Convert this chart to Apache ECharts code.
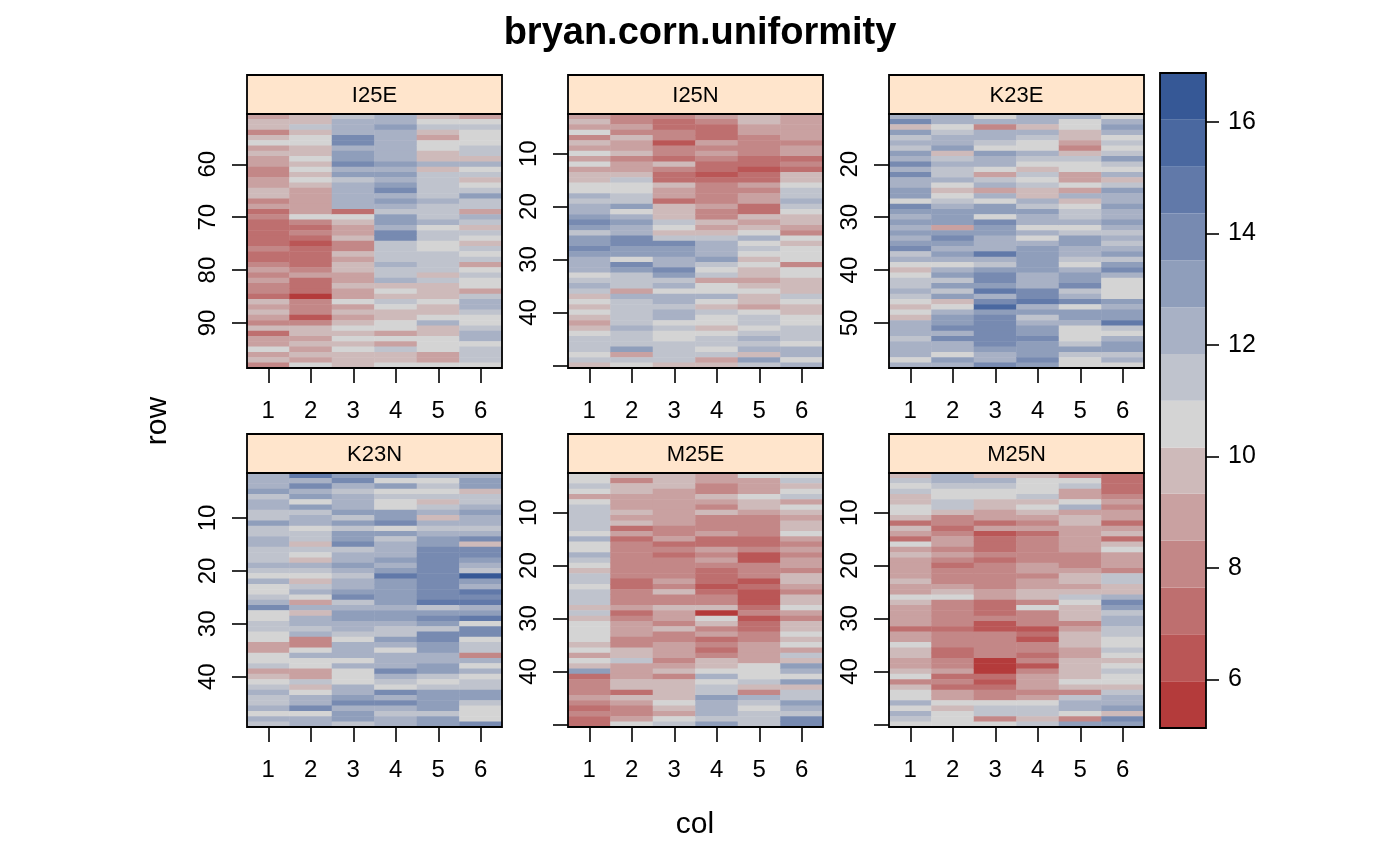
<!DOCTYPE html>
<html><head><meta charset="utf-8">
<script src="https://cdn.jsdelivr.net/npm/echarts@6/dist/echarts.min.js"></script>
<style>html,body{margin:0;padding:0;background:#fff}#c{width:1400px;height:866px}</style>
</head><body><div id="c"></div>
<script>
const chartTitle = 'bryan.corn.uniformity';
const fields = ['I25E','I25N','K23E','K23N','M25E','M25N'];
const cols = ['1','2','3','4','5','6'];
const rowStart = [51, 3, 11, 2, 3, 3];
const rowCount = 48;
const yTickRows = [[60,70,80,90],[10,20,30,40,50],[20,30,40,50],[10,20,30,40],[10,20,30,40,50],[10,20,30,40,50]];
const yLabelRows = [[60,70,80,90],[10,20,30,40],[20,30,40,50],[10,20,30,40],[10,20,30,40],[10,20,30,40]];
const breaks = [5.13,5.97,6.81,7.65,8.49,9.33,10.16,11.00,11.84,12.68,13.52,14.36,15.20,16.04,16.88];
const bandColors = ['#B43B3B','#BA5656','#BE6F6F','#C38787','#C9A1A1','#CEBABA','#D4D4D4','#BFC3CD','#A8B1C5','#8F9EBB','#778AB1','#6179A9','#4A68A0','#365896'];
const keyTicks = [6,8,10,12,14,16];

const I25E = [
[8.9,9.7,9.7,8.0,9.7,10.6,8.9,9.7,8.9,8.9,8.0,8.0,8.9,8.9,9.7,9.7,8.0,8.9,7.2,8.0,7.2,7.2,7.2,7.2,7.2,8.0,7.2,7.2,8.0,8.9,8.0,8.9,8.0,8.0,7.2,9.7,8.9,9.7,8.9,8.0,9.7,7.2,8.9,8.9,10.6,8.9,9.7,8.0],
[9.7,9.7,11.4,9.7,10.6,10.6,9.7,9.7,10.6,9.7,10.6,9.7,10.6,9.7,8.9,8.9,8.9,8.9,8.9,10.6,8.0,7.2,8.0,7.2,6.4,7.2,7.2,7.2,7.2,8.0,8.9,7.2,7.2,7.2,5.5,8.0,8.0,8.0,6.4,8.0,9.7,9.7,8.9,9.7,8.9,9.7,8.9,10.6],
[11.4,12.2,12.2,12.2,13.9,13.9,12.2,13.1,13.1,13.9,12.2,13.1,11.4,12.2,12.2,12.2,12.2,12.2,7.2,10.6,9.7,8.9,8.9,9.7,8.0,8.0,9.7,8.9,9.7,9.7,8.9,8.9,9.7,8.9,8.9,10.6,8.9,9.7,8.9,9.7,10.6,9.7,10.6,9.7,10.6,9.7,9.7,9.7],
[12.2,12.2,13.1,12.2,12.2,12.2,12.2,12.2,12.2,13.1,12.2,13.1,12.2,13.1,13.9,12.2,13.1,12.2,11.4,13.1,13.1,12.2,13.9,13.9,11.4,11.4,11.4,11.4,12.2,11.4,11.4,12.2,9.7,10.6,9.7,11.4,10.6,9.7,9.7,10.6,10.6,8.9,10.6,8.9,11.4,9.7,9.7,10.6],
[9.7,10.6,11.4,9.7,8.9,10.6,10.6,9.7,9.7,12.2,9.7,11.4,11.4,11.4,11.4,11.4,12.2,11.4,11.4,11.4,12.2,10.6,11.4,11.4,10.6,10.6,11.4,11.4,11.4,11.4,9.7,11.4,9.7,9.7,9.7,10.6,9.7,9.7,10.6,12.2,9.7,9.7,10.6,10.6,10.6,8.9,8.9,10.6],
[8.9,10.6,11.4,10.6,10.6,10.6,11.4,11.4,9.7,12.2,10.6,11.4,9.7,10.6,11.4,13.1,11.4,11.4,8.9,12.2,11.4,9.7,11.4,10.6,9.7,11.4,10.6,11.4,8.9,10.6,11.4,10.6,10.6,8.9,11.4,12.2,12.2,11.4,10.6,10.6,11.4,12.2,12.2,10.6,11.4,11.4,11.4,10.6]
];
const I25N = [
[8.9,9.7,8.9,10.6,8.0,9.7,8.9,10.6,8.9,10.6,8.9,9.7,9.7,10.6,10.6,12.2,11.4,12.2,12.2,13.1,13.9,13.1,11.4,13.1,13.1,13.9,13.1,12.2,12.2,12.2,10.6,11.4,12.2,11.4,9.7,10.6,9.7,10.6,9.7,8.9,9.7,10.6,11.4,11.4,11.4,10.6,11.4,9.7],
[8.0,8.0,8.9,8.0,9.7,8.9,8.9,9.7,8.0,8.9,8.9,9.7,11.4,10.6,10.6,11.4,11.4,13.1,10.6,12.2,13.1,12.2,12.2,13.9,13.9,13.1,13.1,10.6,13.9,13.1,11.4,11.4,11.4,8.9,12.2,11.4,11.4,11.4,11.4,11.4,12.2,11.4,11.4,11.4,13.1,8.9,11.4,10.6],
[8.0,7.2,7.2,8.0,8.0,6.4,8.0,8.0,7.2,9.7,8.0,7.2,7.2,9.7,8.9,8.9,7.2,9.7,9.7,9.7,11.4,10.6,9.7,11.4,13.9,13.1,13.1,12.2,12.2,13.9,13.1,11.4,12.2,10.6,12.2,12.2,11.4,12.2,12.2,10.6,11.4,10.6,10.6,11.4,11.4,11.4,11.4,9.7],
[8.9,8.0,7.2,7.2,7.2,8.9,8.0,8.9,8.0,7.2,7.2,6.4,7.2,8.0,8.0,8.0,8.0,8.9,8.0,8.0,9.7,8.9,9.7,11.4,12.2,12.2,12.2,13.1,11.4,10.6,11.4,8.9,10.6,10.6,12.2,10.6,9.7,11.4,10.6,10.6,9.7,10.6,11.4,11.4,10.6,11.4,8.9,9.7],
[9.7,9.7,8.9,8.9,8.0,8.0,8.0,8.0,7.2,7.2,6.4,7.2,7.2,8.9,8.0,8.9,8.9,7.2,7.2,9.7,8.9,9.7,10.6,12.2,10.6,11.4,10.6,9.7,10.6,9.7,9.7,8.9,9.7,10.6,9.7,9.7,8.9,10.6,11.4,11.4,10.6,11.4,12.2,11.4,12.2,9.7,13.1,11.4],
[8.9,8.9,8.9,8.9,8.9,8.0,8.9,8.9,7.2,8.0,7.2,9.7,9.7,10.6,11.4,11.4,12.2,11.4,10.6,9.7,9.7,8.9,8.0,10.6,9.7,10.6,10.6,10.6,8.0,10.6,10.6,9.7,9.7,9.7,11.4,10.6,9.7,9.7,10.6,10.6,11.4,11.4,11.4,10.6,12.2,12.2,10.6,12.2]
];
const K23E = [
[12.2,13.9,9.7,13.1,11.4,12.2,11.4,13.1,12.2,13.9,12.2,13.9,12.2,12.2,13.1,13.1,10.6,13.9,13.1,12.2,13.1,12.2,13.1,12.2,13.1,13.9,11.4,12.2,10.6,9.7,10.6,11.4,11.4,12.2,11.4,10.6,9.7,10.6,9.7,12.2,12.2,12.2,11.4,12.2,12.2,12.2,10.6,12.2],
[12.2,12.2,10.6,11.4,12.2,12.2,13.1,9.7,11.4,12.2,11.4,11.4,12.2,10.6,9.7,10.6,11.4,12.2,13.1,13.1,13.1,8.9,13.1,13.9,13.1,12.2,13.1,12.2,10.6,12.2,13.1,11.4,13.1,11.4,13.1,9.7,10.6,12.2,13.1,13.1,13.9,12.2,13.9,12.2,12.2,10.6,13.1,12.2],
[10.6,12.2,8.0,12.2,12.2,11.4,10.6,13.1,12.2,12.2,10.6,8.9,11.4,12.2,8.9,12.2,10.6,13.1,13.1,10.6,13.9,13.1,13.1,12.2,12.2,12.2,14.8,12.2,11.4,13.1,13.9,13.9,13.1,14.8,12.2,13.9,15.6,13.1,13.9,13.9,13.9,13.9,13.9,13.9,13.1,12.2,12.2,13.9],
[12.2,12.2,9.7,12.2,11.4,10.6,10.6,12.2,11.4,10.6,9.7,11.4,10.6,11.4,9.7,9.7,12.2,11.4,13.1,12.2,12.2,10.6,12.2,10.6,12.2,13.1,13.1,13.1,13.1,13.1,12.2,12.2,12.2,13.9,13.9,14.8,12.2,13.1,11.4,12.2,13.1,13.1,13.9,13.1,13.1,13.1,13.9,13.1],
[12.2,10.6,10.6,9.7,9.7,8.9,8.0,9.7,11.4,10.6,10.6,8.9,8.9,10.6,8.9,12.2,9.7,10.6,11.4,11.4,12.2,10.6,11.4,13.1,13.1,12.2,12.2,11.4,10.6,12.2,13.1,13.1,13.9,11.4,12.2,13.9,10.6,13.1,13.1,12.2,10.6,10.6,10.6,11.4,13.1,11.4,10.6,10.6],
[10.6,12.2,13.1,12.2,10.6,11.4,10.6,11.4,13.1,11.4,10.6,12.2,9.7,11.4,13.1,12.2,12.2,13.1,12.2,12.2,13.1,12.2,11.4,12.2,11.4,12.2,13.1,11.4,13.1,13.9,12.2,10.6,10.6,10.6,10.6,13.1,12.2,13.1,13.1,14.8,11.4,10.6,12.2,13.1,13.1,11.4,12.2,10.6]
];
const K23N = [
[12.2,12.2,12.2,13.1,11.4,12.2,12.2,11.4,11.4,13.1,11.4,11.4,12.2,12.2,11.4,11.4,11.4,12.2,11.4,10.6,12.2,10.6,10.6,11.4,12.2,13.9,10.6,10.6,11.4,11.4,10.6,10.6,8.9,8.9,10.6,10.6,11.4,8.9,9.7,10.6,11.4,12.2,11.4,11.4,12.2,10.6,12.2,11.4],
[14.8,12.2,13.9,12.2,13.1,10.6,13.1,11.4,12.2,12.2,10.6,11.4,11.4,9.7,11.4,10.6,9.7,12.2,11.4,10.6,9.7,11.4,12.2,10.6,8.9,12.2,9.7,12.2,12.2,11.4,12.2,8.0,8.0,10.6,12.2,10.6,10.6,8.9,8.9,11.4,9.7,10.6,12.2,12.2,13.9,10.6,12.2,12.2],
[13.1,13.9,12.2,11.4,12.2,12.2,12.2,13.1,11.4,13.1,11.4,13.1,13.1,13.9,11.4,12.2,12.2,13.1,12.2,11.4,12.2,12.2,13.1,13.9,11.4,12.2,13.1,13.1,12.2,12.2,11.4,10.6,12.2,12.2,12.2,10.6,12.2,10.6,10.6,10.6,12.2,12.2,13.1,13.9,12.2,13.1,13.1,11.4],
[13.1,10.6,13.1,10.6,11.4,10.6,10.6,13.1,13.1,13.9,10.6,13.1,11.4,12.2,12.2,12.2,13.1,12.2,13.1,14.8,13.1,13.1,13.1,13.1,13.1,12.2,13.1,13.1,12.2,11.4,11.4,13.1,12.2,10.6,12.2,12.2,12.2,13.9,12.2,11.4,10.6,13.9,12.2,13.9,12.2,11.4,12.2,12.2],
[12.2,10.6,11.4,10.6,11.4,9.7,11.4,12.2,9.7,12.2,11.4,12.2,13.1,13.1,13.9,13.9,13.9,13.9,13.9,13.9,13.9,13.9,13.9,13.9,14.8,11.4,13.1,13.9,13.1,11.4,13.9,13.9,13.1,13.1,12.2,12.2,13.1,13.1,11.4,10.6,11.4,13.1,13.1,13.1,13.1,11.4,13.1,13.1],
[12.2,13.1,13.1,9.7,11.4,11.4,12.2,13.1,12.2,12.2,11.4,12.2,13.9,9.7,13.9,13.9,13.1,12.2,11.4,16.4,13.1,12.2,14.8,13.9,14.8,12.2,13.1,14.8,10.6,13.9,13.9,10.6,11.4,11.4,8.0,12.2,10.6,12.2,10.6,11.4,11.4,13.1,13.1,11.4,10.6,10.6,10.6,13.9]
];
const M25E = [
[10.6,10.6,11.4,10.6,8.9,10.6,11.4,11.4,11.4,11.4,11.4,10.6,12.2,10.6,10.6,12.2,11.4,10.6,9.7,11.4,11.4,10.6,11.4,11.4,11.4,9.7,11.4,9.7,10.6,10.6,10.6,10.6,9.7,10.6,8.9,10.6,9.7,13.1,7.2,8.0,8.0,8.0,8.9,8.0,7.2,8.0,7.2,7.2],
[9.7,8.0,9.7,9.7,8.9,8.9,8.9,9.7,8.9,9.7,7.2,8.9,7.2,8.0,8.0,8.0,8.0,8.0,8.0,8.0,7.2,7.2,8.0,8.0,8.0,8.9,7.2,8.0,8.9,8.9,8.9,8.0,8.0,9.7,9.7,11.4,8.9,8.9,8.9,9.7,9.7,7.2,9.7,8.9,8.0,8.0,8.9,10.6],
[9.7,9.7,9.7,8.9,8.9,8.9,8.9,8.9,8.9,8.9,8.0,8.0,8.9,7.2,8.0,7.2,8.0,8.0,8.0,8.0,8.9,8.0,9.7,8.0,8.0,9.7,8.9,8.9,8.0,9.7,8.0,8.0,8.9,8.9,8.9,8.0,8.9,9.7,8.0,9.7,9.7,9.7,9.7,10.6,9.7,8.9,10.6,11.4],
[8.9,8.9,8.0,8.0,9.7,8.9,8.0,9.7,8.0,8.0,8.0,8.9,7.2,7.2,8.9,8.0,8.9,8.0,7.2,7.2,7.2,6.4,7.2,8.0,8.0,9.7,5.5,10.6,9.7,8.0,8.9,7.2,8.0,7.2,8.0,9.7,9.7,10.6,12.2,10.6,11.4,11.4,13.1,12.2,12.2,12.2,11.4,13.1],
[10.6,8.9,8.9,8.9,10.6,9.7,9.7,8.9,8.0,8.0,8.0,8.0,7.2,7.2,8.0,6.4,6.4,8.0,8.0,8.0,6.4,7.2,6.4,6.4,6.4,7.2,8.0,6.4,7.2,7.2,8.0,8.0,8.9,8.9,8.9,8.9,10.6,10.6,10.6,11.4,9.7,8.0,12.2,11.4,10.6,11.4,11.4,11.4],
[10.6,11.4,9.7,10.6,11.4,8.9,10.6,9.7,8.9,9.7,9.7,10.6,8.9,8.0,8.9,8.0,8.9,8.9,8.0,9.7,9.7,8.9,8.0,9.7,9.7,10.6,8.9,8.0,9.7,9.7,10.6,9.7,10.6,8.9,11.4,9.7,13.1,12.2,10.6,13.1,9.7,11.4,11.4,13.1,12.2,11.4,13.9,13.9]
];
const M25N = [
[9.7,11.4,10.6,11.4,9.7,9.7,10.6,10.6,9.7,7.2,9.7,8.9,7.2,10.6,8.9,9.7,8.9,8.9,8.9,8.9,9.7,8.9,8.9,10.6,9.7,8.9,8.9,8.9,8.9,7.2,8.9,8.9,10.6,9.7,9.7,8.9,8.9,9.7,10.6,8.0,9.7,10.6,10.6,12.2,10.6,12.2,11.4,10.6],
[12.2,12.2,11.4,10.6,10.6,11.4,11.4,9.7,8.0,8.0,7.2,8.0,8.9,8.9,8.0,8.9,8.0,7.2,8.0,8.0,8.0,8.9,9.7,10.6,8.0,8.0,8.0,8.0,8.0,7.2,8.0,8.0,8.0,7.2,7.2,8.0,8.0,8.9,7.2,8.0,7.2,8.9,8.9,10.6,9.7,10.6,10.6,10.6],
[9.7,12.2,11.4,10.6,10.6,9.7,9.7,8.9,8.9,7.2,8.9,6.4,7.2,7.2,7.2,8.0,7.2,8.0,8.0,8.0,8.0,8.0,8.9,8.9,7.2,7.2,7.2,8.0,6.4,6.4,8.0,8.0,8.0,8.0,8.0,5.5,5.5,5.5,7.2,6.4,7.2,8.0,8.0,10.6,11.4,11.4,8.0,10.6],
[9.7,10.6,10.6,10.6,11.4,9.7,10.6,9.7,8.9,8.0,8.9,7.2,8.0,8.0,8.0,8.0,8.0,8.9,8.9,8.0,8.9,8.9,9.7,9.7,8.0,10.6,8.0,8.0,8.0,6.4,7.2,6.4,8.0,8.0,7.2,8.0,6.4,8.0,8.9,8.9,8.9,8.0,8.9,10.6,11.4,11.4,9.7,11.4],
[8.0,10.6,11.4,8.9,8.9,10.6,12.2,8.9,9.7,9.7,8.9,8.9,8.9,8.9,8.9,8.0,8.0,8.0,8.9,9.7,9.7,8.9,9.7,11.4,10.6,9.7,9.7,9.7,8.0,8.9,9.7,9.7,9.7,8.9,8.9,9.7,9.7,9.7,9.7,10.6,9.7,8.0,11.4,12.2,12.2,10.6,8.0,13.1],
[7.2,7.2,7.2,7.2,8.0,8.9,8.0,8.9,8.9,7.2,8.9,9.7,7.2,9.7,10.6,8.9,8.9,8.9,8.0,11.4,11.4,9.7,9.7,12.2,13.9,13.1,11.4,12.2,12.2,11.4,11.4,10.6,10.6,11.4,10.6,9.7,10.6,11.4,10.6,10.6,9.7,11.4,12.2,12.2,13.1,9.7,13.9,13.1]
];
const fieldData = [I25E, I25N, K23E, K23N, M25E, M25N];

// ---- layout (not data) ----
const FONT = 'Liberation Sans, Arial, sans-serif';
const panelLeft = [247, 568, 889];
const panelTop = [114, 473];
const PW = 255, PH = 254, STRIP = 39;
const key = {left: 1160, top: 73, width: 46, height: 655};

const grids = [], xAxes = [], yAxes = [], series = [], graphics = [];
fields.forEach((name, f) => {
  const L = panelLeft[f % 3], T = panelTop[Math.floor(f / 3)];
  grids.push({left: L, top: T, width: PW, height: PH});
  const rows = [];
  for (let r = 0; r < rowCount; r++) rows.push(String(rowStart[f] + r));
  xAxes.push({
    type: 'category', gridIndex: f, data: cols,
    axisLine: {show: false},
    axisTick: {show: true, alignWithLabel: true, length: 15, lineStyle: {color: '#000', width: 1.6}},
    axisLabel: {color: '#000', fontSize: 24, fontFamily: FONT, margin: 31},
    splitLine: {show: false}
  });
  const tks = yTickRows[f], lbs = yLabelRows[f];
  yAxes.push({
    type: 'category', gridIndex: f, data: rows, inverse: true,
    axisLine: {show: false},
    axisTick: {show: true, alignWithLabel: true, length: 15,
      interval: (i, v) => tks.indexOf(+v) >= 0, lineStyle: {color: '#000', width: 1.6}},
    axisLabel: {color: '#000', fontSize: 24, fontFamily: FONT, rotate: 90, margin: 27,
      interval: (i, v) => lbs.indexOf(+v) >= 0},
    splitLine: {show: false}
  });
  const d = [];
  fieldData[f].forEach((colVals, c) => colVals.forEach((v, r) => d.push([c, r, v])));
  series.push({type: 'heatmap', xAxisIndex: f, yAxisIndex: f, data: d,
    itemStyle: {borderWidth: 0}, emphasis: {disabled: true}, progressive: 0});
  graphics.push({type: 'rect', z: 100, shape: {x: L, y: T - STRIP, width: PW, height: STRIP},
    style: {fill: '#FFE5CC', stroke: '#000', lineWidth: 1.8}});
  graphics.push({type: 'text', z: 101, x: L + PW / 2, y: T - STRIP / 2 + 1,
    style: {text: name, fill: '#000', font: '22px ' + FONT, textAlign: 'center', textVerticalAlign: 'middle'}});
  graphics.push({type: 'rect', z: 100, shape: {x: L, y: T, width: PW, height: PH},
    style: {fill: null, stroke: '#000', lineWidth: 1.8}});
});

// colour key
const kIdx = fields.length;
grids.push({left: key.left, top: key.top, width: key.width, height: key.height});
xAxes.push({type: 'category', gridIndex: kIdx, data: ['k'], show: false});
yAxes.push({type: 'value', gridIndex: kIdx, position: 'right', min: breaks[0], max: breaks[breaks.length - 1],
  axisLine: {show: false}, splitLine: {show: false},
  axisTick: {show: true, length: 13, customValues: keyTicks, lineStyle: {color: '#000', width: 1.6}},
  axisLabel: {show: true, customValues: keyTicks, color: '#000', fontSize: 25, fontFamily: FONT, margin: 22}
});
const bandData = bandColors.map((c, i) => ({value: [0, breaks[i], breaks[i + 1], i]}));
series.push({
  type: 'custom', xAxisIndex: kIdx, yAxisIndex: kIdx, data: bandData,
  encode: {x: 0, y: [1, 2]},
  renderItem: (params, api) => {
    const lo = api.coord([0, api.value(1)]), hi = api.coord([0, api.value(2)]);
    const w = api.size([1, 0])[0];
    return {type: 'rect', shape: {x: lo[0] - w / 2, y: hi[1], width: w, height: lo[1] - hi[1]},
      style: {fill: bandColors[api.value(3)], stroke: null}};
  }
});
graphics.push({type: 'rect', z: 100, shape: {x: key.left, y: key.top, width: key.width, height: key.height},
  style: {fill: null, stroke: '#000', lineWidth: 1.8}});

graphics.push({type: 'text', z: 101, x: 158, y: 421, rotation: Math.PI / 2,
  style: {text: 'row', fill: '#000', font: '30px ' + FONT, textAlign: 'center', textVerticalAlign: 'middle'}});
graphics.push({type: 'text', z: 101, x: 695, y: 825,
  style: {text: 'col', fill: '#000', font: '30px ' + FONT, textAlign: 'center', textVerticalAlign: 'middle'}});

const pieces = bandColors.map((c, i) => (i === bandColors.length - 1
  ? {gte: breaks[i], lte: breaks[i + 1], color: c}
  : {gte: breaks[i], lt: breaks[i + 1], color: c}));

const chart = echarts.init(document.getElementById('c'), null, {renderer: 'canvas'});
chart.setOption({
  animation: false,
  backgroundColor: '#fff',
  title: {text: chartTitle, left: 'center', top: 15, padding: 0,
    textStyle: {fontSize: 38, fontWeight: 'bold', color: '#000', fontFamily: FONT}},
  grid: grids, xAxis: xAxes, yAxis: yAxes,
  visualMap: {type: 'piecewise', show: false, seriesIndex: [0,1,2,3,4,5], dimension: 2, pieces: pieces},
  series: series,
  graphic: graphics
});
</script></body></html>
